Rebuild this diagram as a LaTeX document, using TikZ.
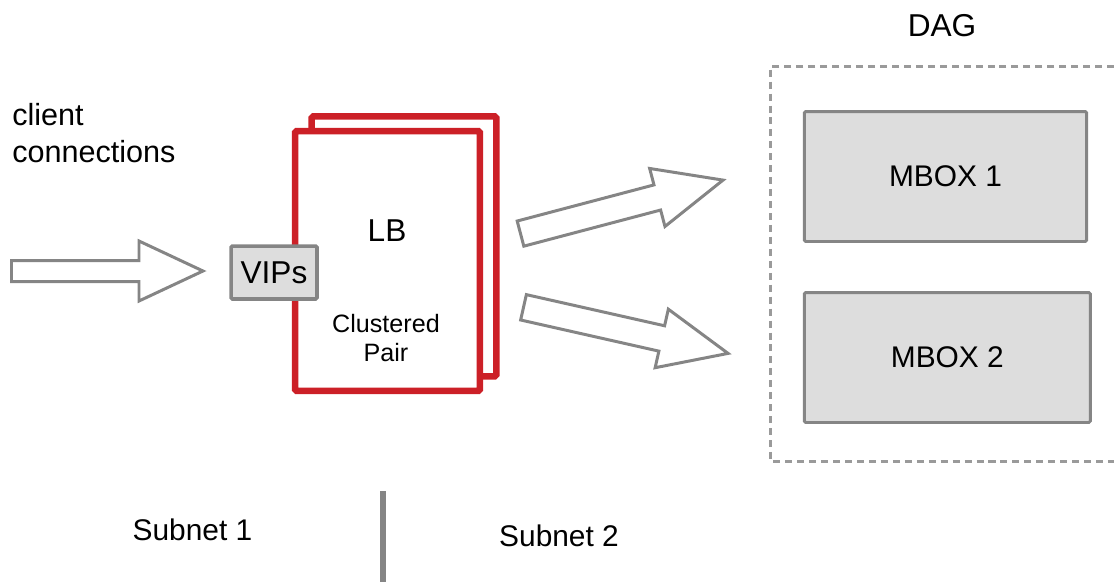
\documentclass[tikz,border=0pt]{standalone}
\usepackage{fontspec}
\setmainfont{Liberation Sans}
\usetikzlibrary{positioning}
\definecolor{lbred}{HTML}{CC2027}
\definecolor{boxgray}{HTML}{DDDDDD}
\definecolor{edgegray}{HTML}{858585}
\definecolor{framegray}{HTML}{9A9A9A}
\tikzset{
  fatarrow/.style={draw=edgegray, line width=1.7pt, fill=white, line join=miter},
  graybox/.style={draw=edgegray, line width=1.7pt, fill=boxgray, inner sep=0pt, rounded corners=0.8pt},
  lbbox/.style={draw=lbred, line width=3.7pt, fill=white, rounded corners=1pt,
                minimum width=3.7cm, minimum height=5.2cm},
  dagframe/.style={draw=framegray, line width=1.7pt, dash pattern=on 4pt off 2.8pt},
}
% block arrow: tail, angle, length, shaft half-width, head half-width, head length
\newcommand{\blockarrow}[6]{%
  \draw[fatarrow, shift={#1}, rotate=#2] (0,-#4) -- ({#3-#6},-#4) -- ({#3-#6},-#5) -- (#3,0)
    -- ({#3-#6},#5) -- ({#3-#6},#4) -- (0,#4) -- cycle;}
\begin{document}
\begin{tikzpicture}[x=0.02cm,y=-0.02cm,font=\fontsize{18pt}{22pt}\selectfont]
    \useasboundingbox (0,0) rectangle (1114,582);

    \node[align=left, anchor=north west, inner sep=0pt, font=\fontsize{17.4pt}{21pt}\selectfont] (client) at (12,103) {client\\connections};

    % DAG
    \node (dag) at (942,26) {DAG};
    \draw[dagframe] (1114,66.7) -- (770.5,66.7) -- (770.5,461) -- (1114,461);
    \node[graybox, minimum width=5.65cm, minimum height=2.6cm, font=\fontsize{17pt}{22pt}\selectfont] (mbox1) at (945.5,176.5) {MBOX 1};
    \node[graybox, minimum width=5.72cm, minimum height=2.6cm, font=\fontsize{17pt}{22pt}\selectfont] (mbox2) at (947.3,357.5) {MBOX 2};

    % LB pair
    \node[lbbox] (lbback) at (404,246.3) {};
    \node[lbbox] (lbfront) at (387.5,261) {};
    \node (lb) at (387,231) {LB};
    \node[align=center, font=\fontsize{14.3pt}{17pt}\selectfont] (pair) at (386,338) {Clustered\\Pair};
    \node[graybox, minimum width=1.72cm, minimum height=1.06cm, line width=2pt] (vips) at (274,272.5) {VIPs};

    % arrows
    \blockarrow{(11.5,271)}{0}{191.5}{10.5}{30}{64}
    \blockarrow{(520.5,233.6)}{14.8}{209.5}{13}{30}{68}
    \blockarrow{(523.5,307.3)}{-12.7}{209.7}{13}{30}{68}

    % subnets
    \node[font=\fontsize{17pt}{22pt}\selectfont] (subnet1) at (192.5,530) {Subnet 1};
    \node[font=\fontsize{17pt}{22pt}\selectfont] (subnet2) at (559,535.5) {Subnet 2};
    \coordinate (divtop) at (383,491);
    \coordinate (divbot) at (383,582);
    \draw[edgegray, line width=3.6pt] (divtop) -- (divbot);
\end{tikzpicture}
\end{document}
